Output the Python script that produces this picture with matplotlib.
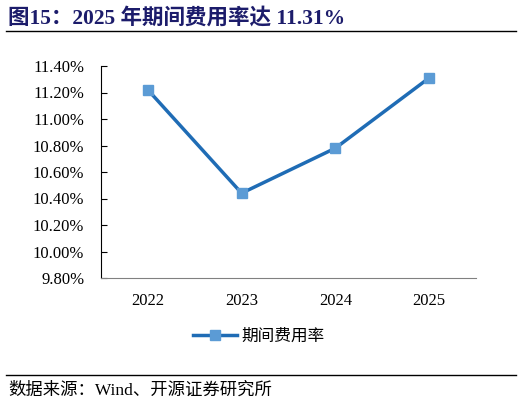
import matplotlib
matplotlib.use("Agg")
import matplotlib.pyplot as plt
from matplotlib.ticker import FuncFormatter
from matplotlib.lines import Line2D

categories = ["2022", "2023", "2024", "2025"]
values = [11.22, 10.44, 10.78, 11.31]
series_name = "期间费用率"
title = "图15：2025 年期间费用率达 11.31%"
source = "数据来源：Wind、开源证券研究所"

W, H = 522, 405
fig = plt.figure(figsize=(W/100, H/100), dpi=100)

serif = ["Liberation Serif", "Noto Sans CJK SC"]
cjk = ["Noto Sans CJK SC", "Liberation Serif"]

ax = fig.add_axes([101/W, 1-278/H, (476-101)/W, (278-66)/H])
x = list(range(len(categories)))
ax.plot(x, values, color="#1f6cb5", lw=2.5, marker="s", ms=7,
        markerfacecolor="#5b9bd5", markeredgecolor="#5b9bd5", zorder=3)
ax.set_xlim(-0.5, len(categories)-0.5)
ax.set_ylim(9.8, 11.4)
ax.set_yticks([9.8 + 0.2*i for i in range(9)])
ax.yaxis.set_major_formatter(FuncFormatter(lambda v, p: f"{v:.2f}%"))
ax.set_xticks(x)
ax.set_xticklabels(categories)
for sp in ["top", "right"]:
    ax.spines[sp].set_visible(False)
ax.spines["left"].set_color("#000000")
ax.spines["bottom"].set_color("#808080")
ax.tick_params(axis="y", direction="in", length=4, pad=12, labelsize=12)
ax.tick_params(axis="x", length=0, pad=11, labelsize=12)
for lbl in ax.get_xticklabels() + ax.get_yticklabels():
    lbl.set_family(serif)

# legend
handle = Line2D([0], [0], color="#1f6cb5", lw=2.5, marker="s", ms=7,
                markerfacecolor="#5b9bd5", markeredgecolor="#5b9bd5")
fig.legend([handle], [series_name], loc="center", bbox_to_anchor=(259/W, 1-336/H),
           frameon=False, prop={"family": cjk, "size": 12}, handlelength=2.6,
           handletextpad=0.3)

# title
fig.text(8/W, 1-18/H, title, ha="left", va="center", fontsize=15.5,
         fontweight="bold", color="#1c1c6b", family=serif)
fig.add_artist(Line2D([6/W, 516/W], [1-31/H, 1-31/H], color="black", lw=1))
fig.add_artist(Line2D([6/W, 516/W], [1-375/H, 1-375/H], color="black", lw=1))
fig.text(8/W, 1-391/H, source, ha="left", va="center", fontsize=12.5,
         color="black", family=serif)

fig.savefig("out.png", dpi=100)
